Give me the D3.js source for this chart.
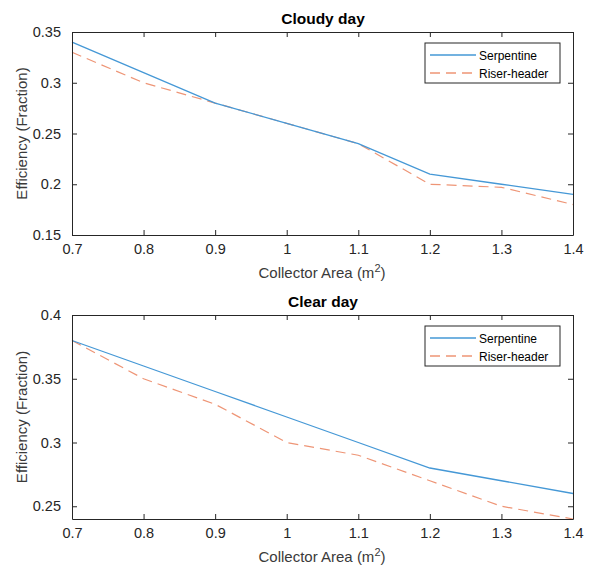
<!DOCTYPE html>
<html lang="en">
<head>
<meta charset="UTF-8">
<title>Collector efficiency</title>
<script src="https://d3js.org/d3.v7.min.js"></script>
<style>
  body { margin: 0; background: #fff; }
  text { font-family: "Liberation Sans", Arial, sans-serif; fill: #262626; }
</style>
</head>
<body>
<svg></svg>
<script>
// Collector area (m2)
const area = [0.7, 0.8, 0.9, 1.0, 1.1, 1.2, 1.3, 1.4];

// Cloudy day efficiency
const cloudySerpentine = [0.34, 0.31, 0.28, 0.26, 0.24, 0.21, 0.20, 0.19];
const cloudyRiser = [0.33, 0.30, 0.28, 0.26, 0.24, 0.20, 0.197, 0.18];

// Clear day efficiency
const clearSerpentine = [0.38, 0.36, 0.34, 0.32, 0.30, 0.28, 0.27, 0.26];
const clearRiser = [0.38, 0.35, 0.33, 0.30, 0.29, 0.27, 0.25, 0.24];

const xTicks = [0.7, 0.8, 0.9, 1.0, 1.1, 1.2, 1.3, 1.4];
const cloudyTicks = [0.15, 0.2, 0.25, 0.3, 0.35];
const clearTicks = [0.25, 0.3, 0.35, 0.4];
const seriesNames = ["Serpentine", "Riser-header"];

const W = 592, H = 568;
const svg = d3.select("svg").attr("width", W).attr("height", H);

const axisColor = "#262626";
const blue = "#4598d6";
const orange = "#ee9576";
const dash = "10,6";

function panel(top, bottom, yDomain, yTicks, title, serp, riser) {
    const x = d3.scaleLinear().domain([0.7, 1.4]).range([72, 573]);
    const y = d3.scaleLinear().domain(yDomain).range([bottom, top]);
    const g = svg.append("g");

    // Lines
    const line = d3.line()
        .x((d, i) => x(area[i]))
        .y(d => y(d));
    g.append("path").datum(riser)
        .attr("fill", "none").attr("stroke", orange).attr("stroke-width", 1.2)
        .attr("stroke-dasharray", dash)
        .attr("d", line);
    g.append("path").datum(serp)
        .attr("fill", "none").attr("stroke", blue).attr("stroke-width", 1.3)
        .attr("d", line);

    // Box with inward ticks on all sides
    const fmt = d => d3.format("")(+d.toFixed(2));
    const xb = g.append("g").attr("transform", `translate(0,${bottom})`)
        .call(d3.axisBottom(x).tickValues(xTicks).tickSizeInner(-5).tickSizeOuter(0).tickPadding(9).tickFormat(fmt));
    const xt = g.append("g").attr("transform", `translate(0,${top})`)
        .call(d3.axisTop(x).tickValues(xTicks).tickSizeInner(-5).tickSizeOuter(0).tickFormat(""));
    const yl = g.append("g").attr("transform", "translate(72,0)")
        .call(d3.axisLeft(y).tickValues(yTicks).tickSizeInner(-5).tickSizeOuter(0).tickPadding(11).tickFormat(fmt));
    const yr = g.append("g").attr("transform", "translate(573,0)")
        .call(d3.axisRight(y).tickValues(yTicks).tickSizeInner(-5).tickSizeOuter(0).tickFormat(""));
    [xb, xt, yl, yr].forEach(a => {
        a.select(".domain").attr("stroke", axisColor);
        a.selectAll(".tick line").attr("stroke", axisColor);
        a.selectAll("text").style("font-size", "14.5px").attr("fill", "#3a3a3a")
            .style("font-family", "'Liberation Sans', Arial, sans-serif");
    });

    // Title
    g.append("text").attr("x", 323).attr("y", top - 8)
        .attr("text-anchor", "middle").style("font-weight", "bold").style("font-size", "15.5px")
        .style("fill", "#000").text(title);

    // Axis labels
    const xl = g.append("text").attr("x", 322).attr("y", bottom + 43)
        .attr("text-anchor", "middle").style("font-size", "15px").style("fill", "#3a3a3a");
    xl.append("tspan").text("Collector Area (m");
    xl.append("tspan").attr("dy", -6).style("font-size", "11px").text("2");
    xl.append("tspan").attr("dy", 6).text(")");

    g.append("text")
        .attr("transform", `translate(27,${(top + bottom) / 2}) rotate(-90)`)
        .attr("text-anchor", "middle").style("font-size", "15px").style("fill", "#3a3a3a")
        .text("Efficiency (Fraction)");

    // Legend
    const lx = 425, ly = top + 11;
    const leg = g.append("g");
    leg.append("rect").attr("x", lx).attr("y", ly).attr("width", 135).attr("height", 40)
        .attr("fill", "#fff").attr("stroke", axisColor).attr("stroke-width", 1);
    [[blue, null], [orange, dash]].forEach((s, i) => {
        const yy = ly + 12 + i * 18;
        leg.append("line").attr("x1", lx + 5).attr("x2", lx + 51).attr("y1", yy).attr("y2", yy)
            .attr("stroke", s[0]).attr("stroke-width", 1.3).attr("stroke-dasharray", s[1]);
        leg.append("text").attr("x", lx + 54).attr("y", yy + 4.5)
            .style("font-size", "12px").style("fill", "#000").text(seriesNames[i]);
    });
}

panel(32, 235, [0.15, 0.35], cloudyTicks, "Cloudy day", cloudySerpentine, cloudyRiser);
panel(315, 519, [0.24, 0.4], clearTicks, "Clear day", clearSerpentine, clearRiser);
</script>
</body>
</html>
